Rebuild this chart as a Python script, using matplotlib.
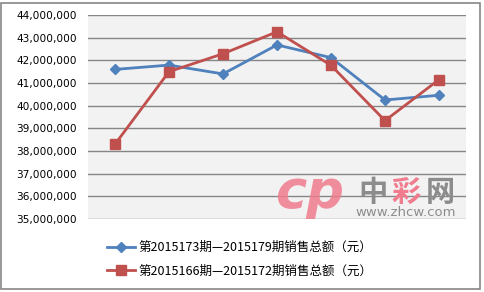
import matplotlib.pyplot as plt
import matplotlib.patches as patches
from matplotlib.ticker import FuncFormatter

plt.rcParams['font.family'] = ['Noto Sans CJK SC', 'DejaVu Sans']

# Data (seven draws per period)
periods = ['1', '2', '3', '4', '5', '6', '7']
sales_173_179 = [41600000, 41790000, 41400000, 42680000, 42120000, 40250000, 40460000]
sales_166_172 = [38300000, 41500000, 42290000, 43260000, 41780000, 39340000, 41150000]
label_173 = '第2015173期—2015179期销售总额（元）'
label_166 = '第2015166期—2015172期销售总额（元）'

fig = plt.figure(figsize=(4.85, 2.92), dpi=100)
ax = fig.add_axes([88/485, 0.25, 378/485, 0.9486 - 0.25])
ax.set_facecolor('#F2F2F2')

x = range(len(periods))
ax.plot(x, sales_173_179, color='#4F81BD', lw=2.0, marker='D', ms=5.5,
        label=label_173, zorder=3)
ax.plot(x, sales_166_172, color='#C0504D', lw=2.0, marker='s', ms=7.5,
        label=label_166, zorder=4)

ax.set_xlim(-0.5, len(periods) - 0.5)
ax.set_ylim(35000000, 44000000)
ax.set_yticks(range(35000000, 44000001, 1000000))
ax.yaxis.set_major_formatter(FuncFormatter(lambda v, p: f'{int(v):,}'))
ax.set_xticks([])
ax.tick_params(axis='y', length=0, pad=8, labelsize=7.6, labelcolor='#000000')
for lbl in ax.get_yticklabels():
    lbl.set_family('DejaVu Sans')
ax.grid(axis='y', color='#868686', lw=1.0, zorder=1)
for s in ax.spines.values():
    s.set_visible(False)

# watermark
fig.text(310/485, 1 - 193/292, 'cp', color='#F07C8D', fontsize=38, fontweight='bold',
         style='italic', ha='center', va='center', family='DejaVu Sans', alpha=0.85)
fig.text(373/485, 1 - 192/292, '中', color='#8C8C8C', fontsize=21, fontweight='bold',
         ha='center', va='center')
fig.text(406/485, 1 - 192/292, '彩', color='#F07C8D', fontsize=21, fontweight='bold',
         ha='center', va='center')
fig.text(440/485, 1 - 192/292, '网', color='#8C8C8C', fontsize=21, fontweight='bold',
         ha='center', va='center')
fig.text(406/485, 1 - 213/292, 'www.zhcw.com', color='#8C8C8C', fontsize=9.5,
         ha='center', va='center', family='DejaVu Sans')

fig.legend(loc='center', bbox_to_anchor=(240/485, 1 - 259.5/292), frameon=False,
           fontsize=9, handlelength=2.2, handletextpad=0.3, labelspacing=0.85)

fig.add_artist(patches.Rectangle((1.5/485, 3/292), 479/485, 286/292,
                                 transform=fig.transFigure, fill=False,
                                 edgecolor='#868686', lw=1.2))

fig.savefig('out.png', dpi=100)
